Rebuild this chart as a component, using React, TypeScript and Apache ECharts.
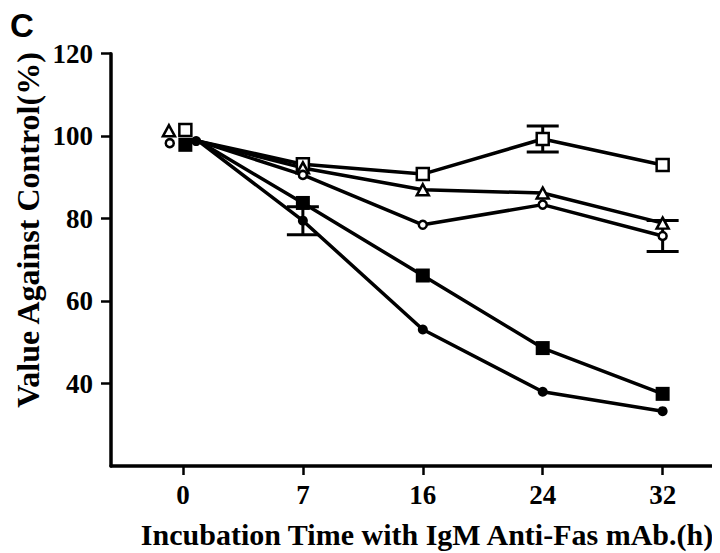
import React, { useEffect, useRef } from "react";
import * as echarts from "echarts";

const timeLabels = ["0", "7", "16", "24", "32"];
const timeIndex = [0, 1, 2, 3, 4];

const openSquare = [101.5, 93.2, 90.8, 99.3, 93.0];
const openTriangle = [101.3, 92.3, 87.0, 86.2, 78.9];
const openCircle = [98.3, 90.6, 78.5, 83.4, 75.8];
const filledSquare = [97.9, 83.8, 66.2, 48.6, 37.5];
const filledCircle = [98.8, 79.5, 53.1, 38.0, 33.3];

const openSquareErr = [0, 0, 0, 3.15, 0];
const openCircleErr = [0, 0, 0, 0, 3.75];
const filledCircleErr = [0, 3.4, 0, 0, 0];

const yTicks = [40, 60, 80, 100, 120];

// common start of the connecting lines near the 0 h markers
const lineOriginX = 0.13;
const lineOriginY = 98.8;

const FONT = "'Liberation Serif', 'Times New Roman', serif";

export default function App() {
  const ref = useRef<HTMLDivElement>(null);
  useEffect(() => {
    if (!ref.current) return;
    const chart = echarts.init(ref.current, null, { renderer: "svg" });

    const specs = [
      { name: "openSquare", vals: openSquare, symbol: "rect", size: 12, open: true, jitter: 0.02 },
      { name: "openTriangle", vals: openTriangle, symbol: "triangle", size: [12, 11], open: true, jitter: -0.117 },
      { name: "openCircle", vals: openCircle, symbol: "circle", size: 8, open: true, jitter: -0.11 },
      { name: "filledSquare", vals: filledSquare, symbol: "rect", size: 14, open: false, jitter: 0.02 },
      { name: "filledCircle", vals: filledCircle, symbol: "circle", size: 10, open: false, jitter: 0.11 },
    ];

    const lineSeries: any[] = specs.map((s) => ({
      type: "line",
      name: s.name,
      z: 3,
      symbol: s.symbol,
      symbolSize: s.size,
      showAllSymbol: true,
      lineStyle: { color: "#000", width: 3.5 },
      itemStyle: s.open
        ? { color: "#fff", borderColor: "#000", borderWidth: 2.5 }
        : { color: "#000", borderColor: "#000", borderWidth: 0 },
      data: [
        { value: [lineOriginX, lineOriginY], symbol: "none" },
        ...s.vals.slice(1).map((v, i) => [timeIndex[i + 1], v]),
      ],
    }));

    const zeroMarkers: any[] = specs.map((s) => ({
      type: "scatter",
      name: s.name + "-0h",
      z: 4,
      symbol: s.symbol,
      symbolSize: s.size,
      itemStyle: s.open
        ? { color: "#fff", borderColor: "#000", borderWidth: 2.5, opacity: 1 }
        : { color: "#000", opacity: 1 },
      data: [[timeIndex[0] + s.jitter, s.vals[0]]],
    }));

    const errData: number[][] = [];
    const pushErr = (vals: number[], err: number[]) => {
      err.forEach((e, i) => {
        if (e > 0) errData.push([timeIndex[i], vals[i] - e, vals[i] + e]);
      });
    };
    pushErr(openSquare, openSquareErr);
    pushErr(openCircle, openCircleErr);
    pushErr(filledCircle, filledCircleErr);

    const errSeries = {
      type: "custom",
      z: 2,
      data: errData,
      encode: { x: 0, y: [1, 2] },
      renderItem: (params: any, api: any) => {
        const x = api.value(0);
        const top = api.coord([x, api.value(2)]);
        const bot = api.coord([x, api.value(1)]);
        const hw = 16;
        const st = { stroke: "#000", lineWidth: 3 };
        return {
          type: "group",
          children: [
            { type: "line", shape: { x1: top[0], y1: top[1], x2: bot[0], y2: bot[1] }, style: st },
            { type: "line", shape: { x1: top[0] - hw, y1: top[1], x2: top[0] + hw, y2: top[1] }, style: st },
            { type: "line", shape: { x1: bot[0] - hw, y1: bot[1], x2: bot[0] + hw, y2: bot[1] }, style: st },
          ],
        };
      },
    };

    chart.setOption({
      animation: false,
      backgroundColor: "#fff",
      grid: { left: 103, right: 3, top: 45.7, bottom: 95, containLabel: false },
      xAxis: {
        type: "value",
        min: -0.6,
        max: 4.52,
        splitLine: { show: false },
        axisLine: { show: true, onZero: false, lineStyle: { color: "#000", width: 3.5 } },
        axisTick: {
          show: true,
          length: 9,
          customValues: timeIndex,
          lineStyle: { color: "#000", width: 2.5 },
        },
        axisLabel: {
          customValues: timeIndex,
          formatter: (v: number) => timeLabels[Math.round(v)],
          margin: 15,
          color: "#000",
          fontFamily: FONT,
          fontWeight: "bold",
          fontSize: 27,
        },
        name: "Incubation Time with IgM Anti-Fas mAb.(h)",
        nameLocation: "middle",
        nameGap: 53,
        nameTextStyle: {
          color: "#000",
          fontFamily: FONT,
          fontWeight: "bold",
          fontSize: 30,
          padding: [0, 0, 0, 18],
        },
      },
      yAxis: {
        type: "value",
        min: 20,
        max: 120,
        interval: 20,
        splitLine: { show: false },
        axisLine: { show: true, onZero: false, lineStyle: { color: "#000", width: 3.5 } },
        axisTick: {
          show: true,
          length: 10,
          customValues: yTicks,
          lineStyle: { color: "#000", width: 2.5 },
        },
        axisLabel: {
          customValues: yTicks,
          margin: 18,
          color: "#000",
          fontFamily: FONT,
          fontWeight: "bold",
          fontSize: 27,
        },
      },
      graphic: [
        {
          type: "text",
          x: 2,
          y: 1,
          style: {
            text: "C",
            fontFamily: "'Liberation Sans', Arial, sans-serif",
            fontWeight: "bold",
            fontSize: 33,
            lineHeight: 33,
            fill: "#000",
            verticalAlign: "top",
          },
        },
        {
          type: "text",
          x: 20,
          y: 222,
          rotation: Math.PI / 2,
          style: {
            text: "Value Against Control(%)",
            fontFamily: FONT,
            fontWeight: "bold",
            fontSize: 32,
            fill: "#000",
            align: "center",
            verticalAlign: "middle",
          },
        },
      ],
      series: [errSeries, ...lineSeries, ...zeroMarkers],
    });

    return () => chart.dispose();
  }, []);

  return <div ref={ref} style={{ width: 720, height: 553 }} />;
}
